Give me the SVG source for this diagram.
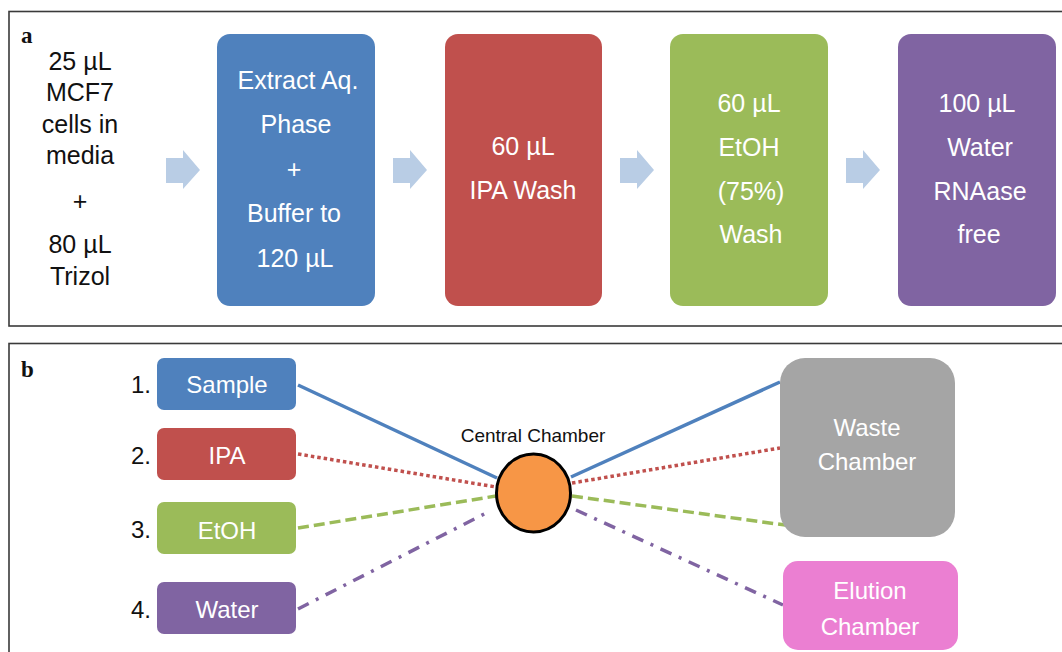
<svg xmlns="http://www.w3.org/2000/svg" width="1062" height="652" viewBox="0 0 1062 652">
<style>
.panel{fill:#fff;stroke:#3a3a3a;stroke-width:1.6}
.lbl{font-family:"Liberation Serif",serif;font-weight:bold;font-size:23px;fill:#111}
.t{font-family:"Liberation Sans",Arial,sans-serif;font-size:25px;text-anchor:middle}
.w{fill:#fff}
.k{fill:#111}
.s{font-family:"Liberation Sans",Arial,sans-serif;font-size:24px;text-anchor:middle;fill:#fff}
.n{font-family:"Liberation Sans",Arial,sans-serif;font-size:24px;text-anchor:end;fill:#111}
.arrow{fill:#B9CDE5}
.c{fill:none;stroke-width:3.5}
</style>
<defs>
<path id="arr" d="M0 8 H17 V0 L34 20 L17 39 V33 H0 Z"/>
</defs>
<rect width="1062" height="652" fill="#fff"/>

<g id="panel-a">
<rect class="panel" x="9" y="11.5" width="1070" height="314.5"/>
<text class="lbl" x="21" y="43">a</text>
</g>

<g id="input">
<text class="t k" x="80" y="70">25 µL</text>
<text class="t k" x="80" y="101">MCF7</text>
<text class="t k" x="80" y="133">cells in</text>
<text class="t k" x="80" y="164">media</text>
<text class="t k" x="80" y="210">+</text>
<text class="t k" x="80" y="253">80 µL</text>
<text class="t k" x="80" y="285">Trizol</text>
</g>

<g id="arrows">
<use href="#arr" class="arrow" x="166" y="150"/>
<use href="#arr" class="arrow" x="393" y="150"/>
<use href="#arr" class="arrow" x="620" y="150"/>
<use href="#arr" class="arrow" x="846" y="150"/>
</g>

<g id="step-extract">
<rect x="217" y="34" width="158" height="272" rx="13" fill="#4F81BD"/>
<text class="t w" x="298" y="89">Extract Aq.</text>
<text class="t w" x="296" y="133">Phase</text>
<text class="t w" x="294" y="178">+</text>
<text class="t w" x="294" y="222">Buffer  to</text>
<text class="t w" x="295" y="267">120 µL</text>
</g>

<g id="step-ipa">
<rect x="445" y="34" width="157" height="272" rx="13" fill="#C0504D"/>
<text class="t w" x="523" y="155">60 µL</text>
<text class="t w" x="523" y="199">IPA Wash</text>
</g>

<g id="step-etoh">
<rect x="670" y="34" width="158" height="272" rx="13" fill="#9BBB59"/>
<text class="t w" x="749" y="112">60 µL</text>
<text class="t w" x="749" y="156">EtOH</text>
<text class="t w" x="751" y="200">(75%)</text>
<text class="t w" x="751" y="243">Wash</text>
</g>

<g id="step-water">
<rect x="898" y="34" width="158" height="272" rx="13" fill="#8064A2"/>
<text class="t w" x="977" y="112">100 µL</text>
<text class="t w" x="980" y="156">Water</text>
<text class="t w" x="980" y="200">RNAase</text>
<text class="t w" x="979" y="243">free</text>
</g>

<g id="panel-b">
<rect class="panel" x="9" y="343.5" width="1070" height="320"/>
<text class="lbl" x="21" y="377">b</text>
</g>

<g id="connectors">
<line class="c" x1="298" y1="385" x2="497" y2="478" stroke="#4F81BD"/>
<line class="c" x1="571" y1="477" x2="780" y2="382" stroke="#4F81BD"/>
<line class="c" x1="298" y1="454" x2="496" y2="487" stroke="#C0504D" stroke-dasharray="3.5 3"/>
<line class="c" x1="572" y1="483" x2="780" y2="448" stroke="#C0504D" stroke-dasharray="3.5 3"/>
<line class="c" x1="298" y1="528" x2="496" y2="496" stroke="#9BBB59" stroke-dasharray="11 5"/>
<line class="c" x1="572" y1="496" x2="792" y2="526" stroke="#9BBB59" stroke-dasharray="11 5"/>
<line class="c" x1="298" y1="609" x2="490" y2="511" stroke="#8064A2" stroke-dasharray="12 8 3 8"/>
<line class="c" x1="576" y1="510" x2="783" y2="605" stroke="#8064A2" stroke-dasharray="12 8 3 8"/>
</g>

<g id="sample">
<text class="n" x="151" y="393">1.</text>
<rect x="157" y="358" width="139" height="52" rx="7" fill="#4F81BD"/>
<text class="s" x="227" y="393">Sample</text>
</g>
<g id="ipa">
<text class="n" x="151" y="464">2.</text>
<rect x="157" y="428" width="139" height="52" rx="7" fill="#C0504D"/>
<text class="s" x="227" y="464">IPA</text>
</g>
<g id="etoh">
<text class="n" x="151" y="538">3.</text>
<rect x="157" y="502" width="139" height="52" rx="7" fill="#9BBB59"/>
<text class="s" x="227" y="539">EtOH</text>
</g>
<g id="water">
<text class="n" x="151" y="618">4.</text>
<rect x="157" y="582" width="139" height="52" rx="7" fill="#8064A2"/>
<text class="s" x="227" y="618">Water</text>
</g>

<g id="central-chamber">
<text x="533" y="442" font-family="Liberation Sans, Arial, sans-serif" font-size="19" text-anchor="middle" fill="#111">Central Chamber</text>
<ellipse cx="533.5" cy="493" rx="37" ry="39" fill="#F79646" stroke="#000" stroke-width="3"/>
</g>

<g id="waste-chamber">
<rect x="780" y="358" width="175" height="179" rx="25" fill="#A5A5A5"/>
<text class="s" x="867" y="436" font-size="25">Waste</text>
<text class="s" x="867" y="470" font-size="25">Chamber</text>
</g>

<g id="elution-chamber">
<rect x="783" y="561" width="175" height="89" rx="15" fill="#EB7FD2"/>
<text class="s" x="870" y="599" font-size="25">Elution</text>
<text class="s" x="870" y="635" font-size="25">Chamber</text>
</g>
</svg>
